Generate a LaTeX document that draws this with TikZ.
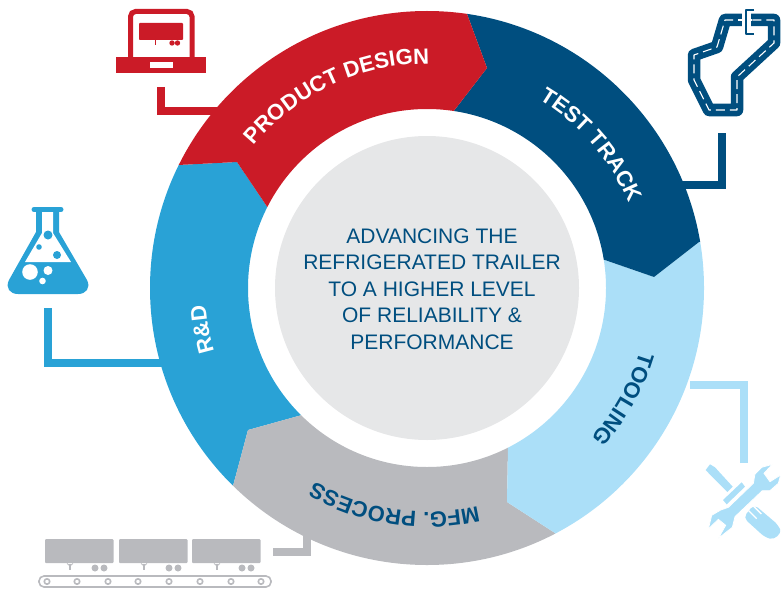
\documentclass[tikz,border=0pt]{standalone}
\usepackage{fontspec}
\setmainfont{Liberation Sans}
\newfontfamily\segfont[LetterSpace=2]{Liberation Sans Bold}
\usetikzlibrary{decorations.text,calc}
\definecolor{cred}{HTML}{CB1B27}
\definecolor{cnavy}{HTML}{004E7F}
\definecolor{cblue}{HTML}{29A2D6}
\definecolor{cpale}{HTML}{ABDFF8}
\definecolor{cgray}{HTML}{B9BABE}
\definecolor{ccore}{HTML}{E6E7E8}
\tikzset{
  link/.style={line width=7.5pt,line join=miter},
  arctext/.style n args={2}{decorate,decoration={text along path,text align=center,text color=#1,text={|\segfont\fontsize{22}{22}\selectfont|#2}}},
}
\begin{document}
\begin{tikzpicture}[x=1pt,y=-1pt]
\useasboundingbox (0,0) rectangle (783,591);
% named anchor points
\coordinate (c) at (427,288);
\coordinate (laptopEnd) at (161,87);
\coordinate (laptopRing) at (230,111);
\coordinate (trackEnd) at (722,133);
\coordinate (trackRing) at (670,185);
\coordinate (flaskEnd) at (48,308);
\coordinate (flaskRing) at (170,363);
\coordinate (toolEnd) at (744,463);
\coordinate (toolRing) at (690,385);
\coordinate (beltEnd) at (273,552);
\coordinate (beltRing) at (307,530);
% connectors
\draw[link,cred] (laptopEnd) |- (laptopRing);
\draw[link,cnavy] (trackEnd) |- (trackRing);
\draw[link,cblue] (flaskEnd) |- (flaskRing);
\draw[link,cpale] (toolEnd) |- (toolRing);
\draw[link,cgray] (beltEnd) -| (beltRing);
% ring
\begin{scope}[even odd rule]
\clip (c) circle[radius=277] (c) circle[radius=179];
\fill[cblue] (103,128) -- (178,165) -- (237,162) -- (268,208) -- (c) -- (302,415) -- (248,430) -- (233,486) -- (200,530) -- (0,400) -- cycle;
\fill[cgray] (200,530) -- (233,486) -- (248,430) -- (302,415) -- (c) -- (508,447) -- (507,502) -- (555,533) -- (580,590) -- (400,620) -- cycle;
\fill[cpale] (580,590) -- (555,533) -- (507,502) -- (508,447) -- (c) -- (602,259) -- (654,277) -- (699,242) -- (760,231) -- (783,420) -- cycle;
\fill[cnavy] (760,231) -- (699,242) -- (654,277) -- (602,259) -- (c) -- (453,112) -- (487,68) -- (467,14) -- (475,-40) -- (700,40) -- cycle;
\fill[cred] (475,-40) -- (467,14) -- (487,68) -- (453,112) -- (c) -- (268,208) -- (237,162) -- (178,165) -- (103,128) -- (250,-20) -- cycle;
\end{scope}
\fill[ccore] (c) circle[radius=152];
\node[text=cnavy,font=\fontsize{21}{26.5}\selectfont,align=center,inner sep=0pt] (core) at (432,289) {ADVANCING THE\\REFRIGERATED TRAILER\\TO A HIGHER LEVEL\\OF RELIABILITY \&\\PERFORMANCE};
% curved labels
\begin{scope}[shift={(427,288)},y=1pt]
\path[arctext={white}{PRODUCT DESIGN}] (175:224) arc[start angle=175,end angle=55,radius=224];
\path[arctext={white}{TEST TRACK}] (101:219) arc[start angle=101,end angle=-19,radius=219];
\path[arctext={cnavy}{TOOLING}] (30.5:222) arc[start angle=30.5,end angle=-89.5,radius=222];
\path[arctext={cnavy}{MFG. PROCESS}] (-38.5:224) arc[start angle=-38.5,end angle=-158.5,radius=224];
\path[arctext={white}{R{\&}D}] (250.5:222) arc[start angle=250.5,end angle=130.5,radius=222];
\end{scope}
% laptop
\draw[cred,line width=5pt,rounded corners=5pt] (130.5,58) -- (130.5,11.5) -- (192,11.5) -- (192,58);
\fill[cred] (116,57.5) rectangle (206,73);
\fill[white] (150,62) rectangle (173,68);
\fill[cred,rounded corners=.8pt] (139,23) rectangle (183,40);
\draw[cred,line width=.9pt] (155,40) -- (155,45);
\fill[cred] (172,43) circle[radius=2.7] (177.5,43) circle[radius=2.7];
% track
\begin{scope}[line join=round]
\draw[cnavy,line width=12.5pt] (742,20) -- (725,20) -- (717,47) -- (694,55) -- (694,80) -- (709,110) -- (737,110) -- (737,77) -- (774,43) -- (774,20) -- (751,20);
\draw[white,line width=1.1pt,dash pattern=on 9pt off 5pt] (747,20) -- (725,20) -- (717,47) -- (694,55) -- (694,80) -- (709,110) -- (737,110) -- (737,77) -- (774,43) -- (774,20) -- (747,20);
\fill[white] (742,8) rectangle (751,36);
\draw[white,line width=1.1pt] (738,20) -- (752,20);
\draw[cnavy,line width=2.5pt] (754,10) -- (746,10) -- (746,34) -- (754,34);
\end{scope}
% flask
\fill[cblue] (36,212) -- (36,232) -- (9,280) .. controls (5,288) and (10,294) .. (18,294) -- (78,294) .. controls (86,294) and (91,288) .. (87,280) -- (59,232) -- (59,212) -- cycle;
\draw[cblue,line width=5pt,line cap=round] (34,209.5) -- (61,209.5);
\fill[white] (42,212) -- (42,233) -- (25,262) -- (71,262) -- (53,233) -- (53,212) -- cycle;
\fill[cblue] (48,235) circle[radius=4.5] (39,247) circle[radius=2.8] (57,255) circle[radius=4];
\fill[white] (30,272) circle[radius=7.8] (48,270.5) circle[radius=4.5] (42.5,281) circle[radius=3.3];
% tools
\begin{scope}[shift={(690,450)},x=.3333pt,y=-.3333pt]
\fill[cpale] (47,60) -- (60,43) -- (75,52) -- (128,110) -- (112,126) -- (62,76) -- cycle;
\fill[cpale,rounded corners=5pt] (160,203) -- (192,163) -- (265,225) .. controls (275,250) and (255,270) .. (225,262) -- cycle;
\draw[white,line width=1.4pt] (190,168) -- (214,192) (176,182) -- (200,206);
\fill[cpale,draw=white,line width=.8pt] (55,237) -- (65,196) -- (92,180) -- (115,172) -- (190,100) -- (195,72) -- (215,52) -- (247,43) -- (222,70) -- (240,95) -- (272,75) -- (265,100) -- (240,122) -- (217,122) -- (135,200) -- (127,232) -- (85,265) -- (107,226) -- (85,208) -- cycle;
\fill[cpale] (99,150) -- (155,97) -- (165,110) -- (110,163) -- cycle;
\end{scope}
% trailers
\foreach \tx in {45,119,192}{
  \fill[cgray,rounded corners=1pt] (\tx,539) rectangle ++(68.5,24);
  \draw[cgray,line width=1.2pt] (\tx+25,564) -- (\tx+25,570);
  \draw[cgray,line width=.8pt] (\tx+22,563.5) -- (\tx+25,566) -- (\tx+28,563.5);
  \fill[cgray] (\tx+50,568) circle[radius=3.5] (\tx+59,568) circle[radius=3.5];
}
\draw[cgray,line width=1.6pt,rounded corners=5pt] (39,576) rectangle (271,587);
\foreach \rx in {47,77,108,138,169,200,231,261}
  \draw[cgray,line width=1.6pt] (\rx,581.5) circle[radius=2.7];
\end{tikzpicture}
\end{document}
